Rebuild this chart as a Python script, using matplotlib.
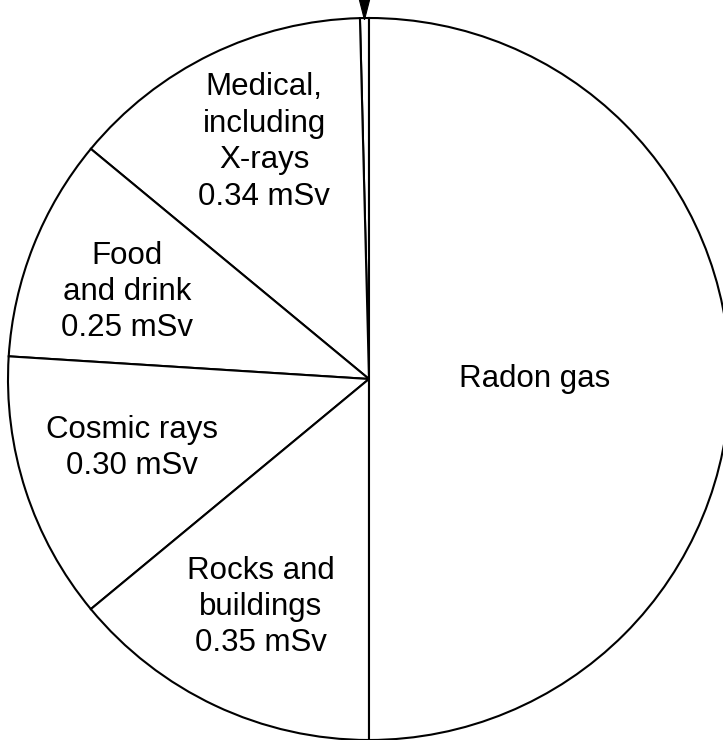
import numpy as np
import matplotlib
matplotlib.use("Agg")
import matplotlib.pyplot as plt
from matplotlib.patches import Polygon

plt.rcParams['font.family'] = ['Liberation Sans', 'DejaVu Sans']

# Annual radiation dose by source (mSv), counter-clockwise from the top
sources = ["Other", "Medical", "Food", "Cosmic", "Rocks", "Radon"]
doses = [0.01, 0.34, 0.25, 0.30, 0.35, 1.25]
labels = ["",
          "Medical,\nincluding\nX-rays\n0.34 mSv",
          "Food\nand drink\n0.25 mSv",
          "Cosmic rays\n0.30 mSv",
          "Rocks and\nbuildings\n0.35 mSv",
          "Radon gas"]

# label centres in pixel coords of the 723x740 image (layout only)
label_px = [None, (264, 142), (127, 292), (132, 448), (261, 607), (535, 379)]

W, H = 723, 740
CX, CY, R = 369, 379, 361


def to_data(px, py):
    return (px - CX) / R, (CY - py) / R


fig = plt.figure(figsize=(W / 100, H / 100), dpi=100)
ax = fig.add_axes([0, 0, 1, 1])

wedges, _ = ax.pie(doses, startangle=90, counterclock=True, radius=1.0,
                   colors=["white"] * len(doses),
                   wedgeprops=dict(edgecolor="black", linewidth=1.5))

for lab, pos in zip(labels, label_px):
    if pos is None:
        continue
    x, y = to_data(*pos)
    ax.text(x, y, lab, ha="center", va="center", fontsize=22.5,
            linespacing=1.28, color="black")

# small arrow pointing at the tiny "Other" wedge
w0 = wedges[0]
mid = np.deg2rad((w0.theta1 + w0.theta2) / 2)
tip = (0.995 * np.cos(mid), 0.995 * np.sin(mid))
half = 6 / R
top = 1.06
ax.add_patch(Polygon([(tip[0] - half, top), (tip[0] + half, top), tip],
                     closed=True, facecolor="black", edgecolor="black",
                     linewidth=0.8, clip_on=False))

ax.set_xlim(-CX / R, (W - CX) / R)
ax.set_ylim(-(H - CY) / R, CY / R)
ax.set_aspect("auto")
ax.axis("off")

fig.savefig("out.png", dpi=100, facecolor="white")
